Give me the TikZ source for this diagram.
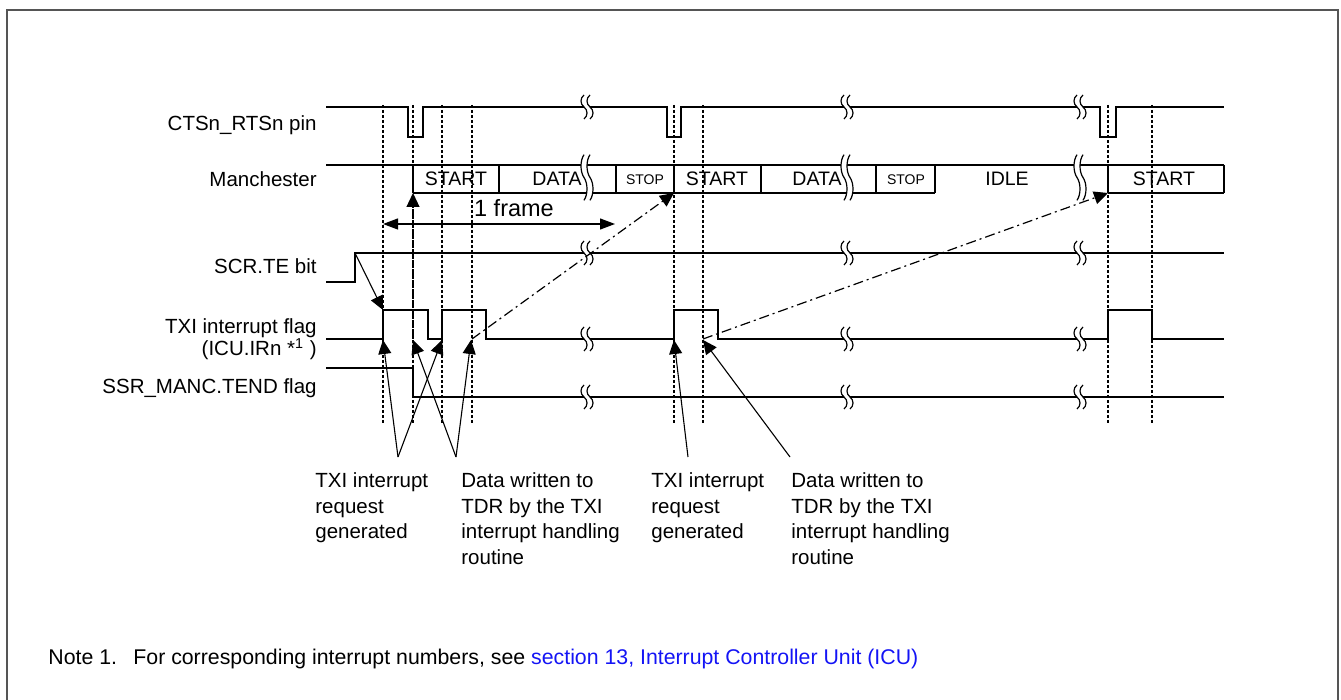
\documentclass[tikz,border=0pt]{standalone}
\usepackage{fontspec}
\setmainfont{Liberation Sans}
\usetikzlibrary{arrows.meta}
\definecolor{linkblue}{RGB}{20,20,245}
\definecolor{framecol}{RGB}{85,85,85}
\newcommand\brk[3]{%
 \begin{scope}[shift={(#1,#2)}, yscale=#3]
  \fill[white] (-3,-12) .. controls (-7,-9) and (-7,-3) .. (-3,0) .. controls (1,3) and (1,9) .. (-3,12) -- (3,12) .. controls (7,9) and (7,3) .. (3,0) .. controls (-1,-3) and (-1,-9) .. (3,-12) -- cycle;
  \draw[line width=0.6pt] (-3,-12) .. controls (-7,-9) and (-7,-3) .. (-3,0) .. controls (1,3) and (1,9) .. (-3,12);
  \draw[line width=0.6pt] (3,-12) .. controls (-1,-9) and (-1,-3) .. (3,0) .. controls (7,3) and (7,9) .. (3,12);
 \end{scope}}
\begin{document}
\begin{tikzpicture}[x=0.5pt,y=-0.5pt,
  sig/.style={line width=1pt},
  vdash/.style={line width=0.7pt, dash pattern=on 1.5pt off 1pt},
  tip/.style={-{Triangle[length=7pt,width=6.5pt]}},
  ann/.style={line width=0.55pt, tip},
  chain/.style={line width=0.6pt, dash pattern=on 5pt off 2pt on 1pt off 2pt, tip},
  lbl/.style={font=\fontsize{10.25pt}{12.85pt}\selectfont, inner sep=0pt},
  notetxtstyle/.style={font=\fontsize{10.65pt}{13pt}\selectfont, inner sep=0pt},
  boxtxt/.style={font=\fontsize{9.75pt}{11pt}\selectfont, inner sep=0pt, anchor=base},
  stoptxt/.style={font=\fontsize{7pt}{8pt}\selectfont, inner sep=0pt, anchor=base},
  bigtxt/.style={font=\fontsize{11.75pt}{13pt}\selectfont, inner sep=0pt, anchor=base}
]
\useasboundingbox (0,0) rectangle (1341,700);
% frame
\draw[framecol, line width=1pt] (7,700) -- (7,10) -- (1338,10) -- (1338,700);

% dashed timing verticals
\foreach \x in {383,413,442,472,674,703,1108,1152}
  \draw[vdash] (\x,105) -- (\x,425);

% signal labels
\node[lbl, anchor=base east] (lcts) at (317,130.7) {CTSn\_RTSn pin};
\node[lbl, anchor=base east] (lman) at (317,187) {Manchester};
\node[lbl, anchor=base east] (lscr) at (317,274) {SCR.TE bit};
\node[lbl, anchor=base east] (ltxi) at (317,334) {TXI interrupt flag};
\node[lbl, anchor=base east] (licu) at (317,355.7) {(ICU.IRn *\textsuperscript{1} )};
\node[lbl, anchor=base east] (lssr) at (317,394) {SSR\_MANC.TEND flag};

% CTSn_RTSn
\draw[sig] (326,107) -- (408,107) -- (408,137) -- (423,137) -- (423,107) -- (667,107) -- (667,137) -- (681,137) -- (681,107) -- (1100,107) -- (1100,137) -- (1116,137) -- (1116,107) -- (1224,107);
% Manchester
\draw[sig] (326,165) -- (1224,165);
\draw[sig] (413,193) -- (935,193);
\draw[sig] (1108,193) -- (1224,193);
\foreach \x in {413,499,616,674,761,876,935,1108,1224}
  \draw[sig] (\x,165) -- (\x,193);
% SCR.TE
\draw[sig] (326,282) -- (355,282) -- (355,253) -- (1224,253);
% TXI
\draw[sig] (326,339) -- (383,339) -- (383,310) -- (428,310) -- (428,339) -- (442,339) -- (442,310) -- (486,310) -- (486,339) -- (674,339) -- (674,310) -- (718,310) -- (718,339) -- (1108,339) -- (1108,310) -- (1152,310) -- (1152,339) -- (1224,339);
% SSR_MANC.TEND
\draw[sig] (326,368) -- (413,368) -- (413,397) -- (1224,397);

% breaks
\foreach \x in {587,847,1080} {
  \brk{\x}{107}{1}
  \brk{\x}{177.5}{1.9}
  \brk{\x}{253}{1}
  \brk{\x}{339}{1}
  \brk{\x}{397}{1}
}

% Manchester texts
\node[boxtxt] (s1) at (456,186) {START};
\node[boxtxt] (d1) at (557,186) {DATA};
\node[stoptxt] (p1) at (645,184.3) {STOP};
\node[boxtxt] (s2) at (717,186) {START};
\node[boxtxt] (d2) at (817,186) {DATA};
\node[stoptxt] (p2) at (906,184.3) {STOP};
\node[boxtxt] (idle) at (1007,186) {IDLE};
\node[boxtxt] (s3) at (1164,186) {START};

% 1 frame
\coordinate (fL) at (383,224);
\coordinate (fR) at (615,224);
\draw[line width=0.6pt, {Triangle[length=7.5pt,width=5.5pt]}-{Triangle[length=7.5pt,width=5.5pt]}] (fL) -- (fR);
\node[bigtxt] (frame) at (514,216.5) {1 frame};

% SCR.TE -> TXI
\coordinate (scrup) at (355,253);
\coordinate (txr1) at (383,310);
\draw[ann] (scrup) -- (txr1);

% chain arrows
\coordinate (w0) at (413,339); \coordinate (m0) at (413,193);
\coordinate (w1) at (472,339); \coordinate (m1) at (674,193);
\coordinate (w2) at (703,339); \coordinate (m2) at (1108,193);
\draw[chain] (w0) -- (m0);
\draw[chain] (w1) -- (m1);
\draw[chain] (w2) -- (m2);

% annotation arrows
\coordinate (c1) at (398,457); \coordinate (c2) at (456,457);
\coordinate (c3) at (688,457); \coordinate (c4) at (790,457);
\coordinate (t1) at (383,340); \coordinate (t2) at (442,340);
\coordinate (t3) at (413,340); \coordinate (t4) at (471,340);
\coordinate (t5) at (674,340); \coordinate (t6) at (703,340);
\draw[ann] (c1) -- (t1);
\draw[ann] (c1) -- (t2);
\draw[ann] (c2) -- (t3);
\draw[ann] (c2) -- (t4);
\draw[ann] (c3) -- (t5);
\draw[ann] (c4) -- (t6);

% annotation labels
\node[lbl, anchor=north west, align=left] (L1) at (315,472.3) {TXI interrupt\\request\\generated};
\node[lbl, anchor=north west, align=left] (L2) at (461,472.3) {Data written to\\TDR by the TXI\\interrupt handling\\routine};
\node[lbl, anchor=north west, align=left] (L3) at (651,472.3) {TXI interrupt\\request\\generated};
\node[lbl, anchor=north west, align=left] (L4) at (791,472.3) {Data written to\\TDR by the TXI\\interrupt handling\\routine};

% note
\node[notetxtstyle, anchor=base west] (note) at (48,665) {Note 1.};
\node[notetxtstyle, anchor=base west] (notetxt) at (133,665) {For corresponding interrupt numbers, see \textcolor{linkblue}{section 13, Interrupt Controller Unit (ICU)}};
\end{tikzpicture}
\end{document}
